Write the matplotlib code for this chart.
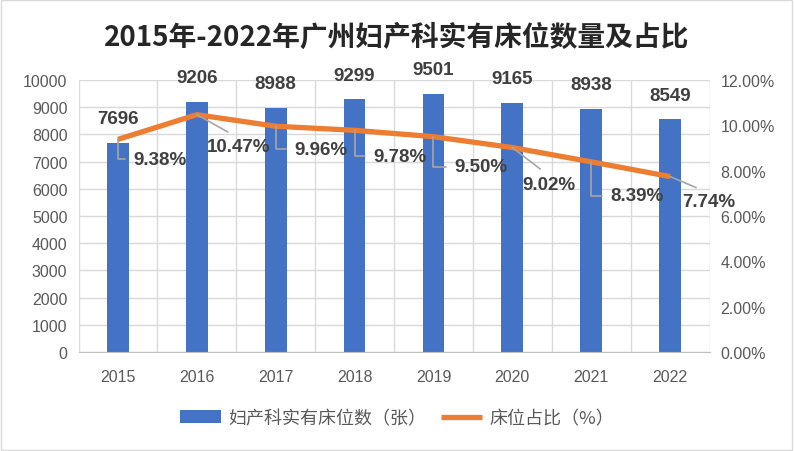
import numpy as np
import matplotlib
matplotlib.use('Agg')
import matplotlib.pyplot as plt
from matplotlib.patches import Rectangle

plt.rcParams['font.family'] = ['Liberation Sans', 'Noto Sans CJK SC', 'DejaVu Sans']

years = ['2015', '2016', '2017', '2018', '2019', '2020', '2021', '2022']
beds = [7696, 9206, 8988, 9299, 9501, 9165, 8938, 8549]
ratio = [9.38, 10.47, 9.96, 9.78, 9.50, 9.02, 8.39, 7.74]

# percent label placement (px right, px down from the point) and leader shape
pct_offsets = [(42, 20), (42, 32), (45, 23), (45, 26), (47, 30), (37, 37), (46, 34), (39, 25)]
pct_bent = [True, False, True, True, True, False, True, False]

BLUE = '#4472C4'
ORANGE = '#ED7D31'
GRID = '#d9d9d9'
TXT = '#595959'
LBL = '#404040'
PX = 0.72  # px -> pt at dpi 100

fig = plt.figure(figsize=(7.94, 4.52), dpi=100)
ax = fig.add_axes([0.0989, 0.219, 0.7947, 0.6018])
x = np.arange(len(years))

bars = ax.bar(x, beds, width=0.275, color=BLUE, zorder=2, label='妇产科实有床位数（张）')
ax.set_ylim(0, 10000)
ax.set_yticks(range(0, 10001, 1000))
ax.set_xlim(-0.5, len(years) - 0.5)
ax.set_xticks(x)
ax.set_xticklabels(years)
ax.set_xticks(np.arange(-0.5, len(years), 1), minor=True)
ax.grid(axis='y', which='major', color=GRID, lw=1)
ax.grid(axis='x', which='minor', color=GRID, lw=1)
ax.set_axisbelow(True)
ax.tick_params(which='both', length=0, labelsize=11.5, labelcolor=TXT)
ax.tick_params(axis='x', pad=12)
ax.tick_params(axis='y', pad=8)
for s in ['top', 'left', 'right']:
    ax.spines[s].set_visible(False)
ax.spines['bottom'].set_color('#bfbfbf')

for xi, v in zip(x, beds):
    ax.annotate(str(v), (xi, v), xytext=(0, 24 * PX), textcoords='offset points',
                ha='center', va='center', fontsize=13.5, fontweight='bold', color=LBL)

ax2 = ax.twinx()
line, = ax2.plot(x, ratio, color=ORANGE, lw=3.8, solid_capstyle='butt', zorder=3,
                 label='床位占比（%）')
ax2.set_ylim(0, 12)
ax2.set_yticks(range(0, 13, 2))
ax2.set_yticklabels([f'{t:.2f}%' for t in range(0, 13, 2)])
ax2.tick_params(length=0, labelsize=11.5, labelcolor=TXT, pad=8)
for s in ax2.spines.values():
    s.set_visible(False)

for xi, r, (dx, dy), bent in zip(x, ratio, pct_offsets, pct_bent):
    if bent:
        ap = dict(arrowstyle='-', color='#a6a6a6', lw=1.2, relpos=(0, 0.5),
                  connectionstyle='angle,angleA=0,angleB=90,rad=0', shrinkA=4, shrinkB=0)
    else:
        ap = dict(arrowstyle='-', color='#a6a6a6', lw=1.2, relpos=(0.5, 1),
                  shrinkA=5, shrinkB=0)
    ax2.annotate(f'{r:.2f}%', (xi, r), xytext=(dx * PX, -dy * PX), textcoords='offset points',
                 ha='center', va='center', fontsize=13.5, fontweight='bold', color=LBL,
                 arrowprops=ap, zorder=4)

fig.text(0.5, 0.916, '2015年-2022年广州妇产科实有床位数量及占比', ha='center', va='center',
         fontsize=20, fontweight='bold', color='#262626',
         family=['Noto Sans CJK SC', 'DejaVu Sans'])

leg = fig.legend(handles=[bars, line], loc='center', bbox_to_anchor=(0.5, 0.073), ncol=2,
                 frameon=False, handlelength=2.3, handleheight=0.7,
                 columnspacing=0.8, handletextpad=0.4,
                 prop={'family': ['Noto Sans CJK SC', 'DejaVu Sans'], 'size': 13,
                       'weight': 'light'})
for t in leg.get_texts():
    t.set_color(TXT)

fig.patches.append(Rectangle((0.001, 0.002), 0.997, 0.996, transform=fig.transFigure,
                             fill=False, edgecolor=GRID, lw=1))

fig.savefig('out.png', dpi=100)
